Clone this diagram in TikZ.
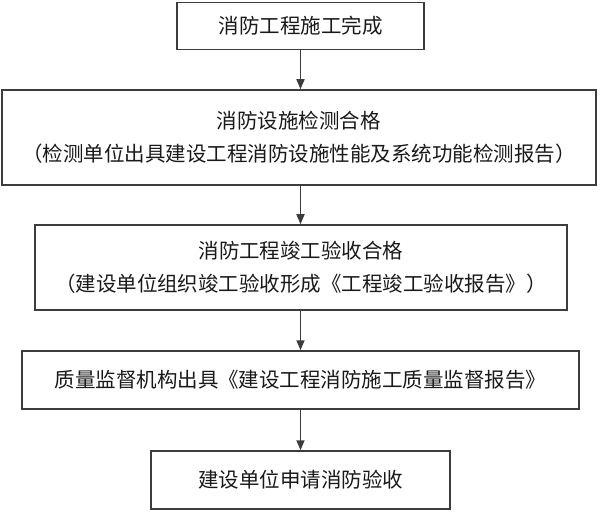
\documentclass[tikz,border=0pt]{standalone}
\usepackage{fontspec}
\setmainfont{Noto Sans CJK SC}
\usetikzlibrary{arrows.meta}
\definecolor{linegray}{HTML}{3C3C3C}
\begin{document}
\begin{tikzpicture}[x=1pt,y=-1pt,
  flowbox/.style={draw=linegray,line width=1.5pt,rectangle,inner sep=0pt,align=center,
    font=\fontsize{20.5}{32.5}\selectfont,text=black!90},
  flowarrow/.style={draw=linegray,line width=1.5pt,-{Triangle[length=10pt,width=8pt]}}]
\useasboundingbox (0,0) rectangle (600,513);
\node[flowbox,minimum width=247pt,minimum height=47pt] (b1) at (300.5,26) {消防工程施工完成};
\node[flowbox,minimum width=594pt,minimum height=95pt] (b2) at (299,137.5) {消防设施检测合格\\（检测单位出具建设工程消防设施性能及系统功能检测报告）};
\node[flowbox,minimum width=532pt,minimum height=85pt] (b3) at (301,267.5) {消防工程竣工验收合格\\（建设单位组织竣工验收形成《工程竣工验收报告》）};
\node[flowbox,minimum width=557pt,minimum height=58pt] (b4) at (300.5,380) {质量监督机构出具《建设工程消防施工质量监督报告》};
\node[flowbox,minimum width=299pt,minimum height=58pt] (b5) at (300.5,480) {建设单位申请消防验收};
\draw[flowarrow] (b1.south) -- (b1.south |- b2.north);
\draw[flowarrow] (b2.south -| b1.south) -- (b1.south |- b3.north);
\draw[flowarrow] (b3.south -| b1.south) -- (b1.south |- b4.north);
\draw[flowarrow] (b4.south -| b1.south) -- (b1.south |- b5.north);
\end{tikzpicture}
\end{document}
